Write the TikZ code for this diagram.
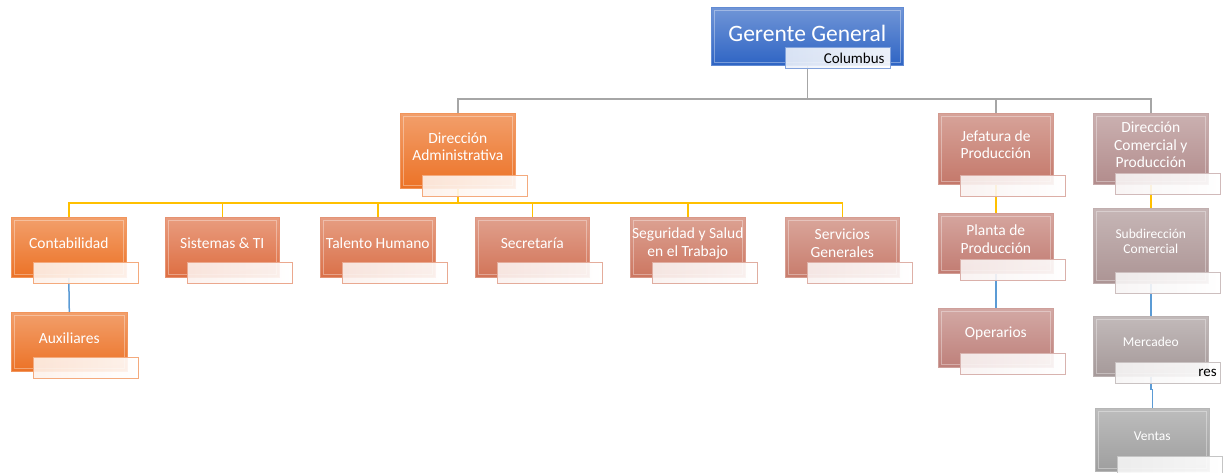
\documentclass[tikz,border=0pt]{standalone}
\usepackage{fontspec}
\setmainfont{Carlito}
\usetikzlibrary{calc,backgrounds}

% unit colours
\definecolor{cGG}{RGB}{46,100,196}
\definecolor{cOR}{RGB}{236,114,38}
\definecolor{cSI}{RGB}{222,110,66}
\definecolor{cTA}{RGB}{218,112,72}
\definecolor{cSE}{RGB}{210,116,88}
\definecolor{cSG}{RGB}{204,118,96}
\definecolor{cSV}{RGB}{200,124,108}
\definecolor{cJP}{RGB}{196,120,106}
\definecolor{cPP}{RGB}{194,124,114}
\definecolor{cOP}{RGB}{190,128,122}
\definecolor{cDC}{RGB}{178,140,140}
\definecolor{cSD}{RGB}{172,148,148}
\definecolor{cME}{RGB}{165,153,153}
\definecolor{cVE}{RGB}{158,158,158}
\definecolor{lnGray}{RGB}{166,166,166}
\definecolor{lnYellow}{RGB}{255,192,0}
\definecolor{lnBlue}{RGB}{91,155,213}

\newcommand\unitfont{\fontsize{15.5}{17.5}\selectfont}
\newcommand\smallunitfont{\fontsize{13.5}{15}\selectfont}

\tikzset{
  unit box/.style={rectangle, inner sep=0pt, anchor=north west,
    line width=0.6pt, draw=#1!75!white,
    top color=#1!68!white, bottom color=#1,
    path picture={\draw[white, opacity=.35, line width=1.2pt]
      ([xshift=3pt,yshift=-3pt]path picture bounding box.north west) rectangle
      ([xshift=-3pt,yshift=3pt]path picture bounding box.south east);}},
  unit label/.style={rectangle, inner sep=0pt, anchor=north west,
    minimum width=105pt, minimum height=21pt,
    draw=#1!60!white, line width=0.8pt,
    left color=#1!10!white, right color=white, fill opacity=.9, text opacity=1},
  unit text/.style={text=white, align=center, inner sep=0pt},
  label text/.style={text=black, inner sep=0pt, anchor=east, font=\fontsize{15}{17}\selectfont},
  conn/.style={line width=1.5pt, draw=#1},
}

% name, left, top, width, height, colour, label top, font, text
\newcommand\orgunit[9]{%
  \node[unit box=#6, minimum width=#4pt, minimum height=#5pt] (#1) at (#2,#3) {};
  \node[unit label=#6] (#1-l) at ({#2+22},#7) {};
  \node[unit text, font=#8] (#1-t) at ([yshift=4pt]#1.center) {#9};
}

\begin{document}
\begin{tikzpicture}[x=1pt, y=-1pt]
\useasboundingbox (0,0) rectangle (1225,473);

% general manager
\node[unit box=cGG, minimum width=192pt, minimum height=58pt] (gg) at (711,7) {};
\node[unit text, font=\fontsize{23.5}{26}\selectfont] (gg-t) at ([yshift=3pt]gg.center) {Gerente General};
\node[unit label=cGG] (gg-l) at (785,47) {};
\node[label text] (gg-lt) at ([xshift=-6pt]gg-l.east) {Columbus};

% administration branch
\orgunit{da}{400}{113}{115}{75}{cOR}{175}{\unitfont}{Dirección\\Administrativa}
\orgunit{cont}{11}{217}{115}{60}{cOR}{262}{\unitfont}{Contabilidad}
\orgunit{sis}{165}{217}{114}{60}{cSI}{262}{\unitfont}{Sistemas \& TI}
\orgunit{tal}{320}{217}{115}{60}{cTA}{262}{\unitfont}{Talento Humano}
\orgunit{sec}{475}{217}{114}{60}{cSE}{262}{\unitfont}{Secretaría}
\orgunit{seg}{630}{217}{115}{60}{cSG}{262}{\unitfont}{Seguridad y Salud\\en el Trabajo}
\orgunit{ser}{785}{217}{114}{60}{cSV}{262}{\unitfont}{Servicios\\Generales}
\orgunit{aux}{11}{312}{116}{59}{cOR}{357}{\unitfont}{Auxiliares}

% production branch
\orgunit{jp}{938}{113}{115}{71}{cJP}{175}{\unitfont}{Jefatura de\\Producción}
\orgunit{pp}{938}{213}{115}{60}{cPP}{259}{\unitfont}{Planta de\\Producción}
\orgunit{op}{938}{308}{115}{59}{cOP}{353}{\unitfont}{Operarios}

% commercial branch
\orgunit{dc}{1093}{113}{115}{71}{cDC}{173}{\unitfont}{Dirección\\Comercial y\\Producción}
\orgunit{sd}{1093}{208}{115}{75}{cSD}{272}{\smallunitfont}{Subdirección\\Comercial}
\orgunit{me}{1093}{316}{115}{60}{cME}{362}{\smallunitfont}{Mercadeo}
\node[label text] (me-lt) at ([xshift=-4pt]me-l.east) {res};
\orgunit{ve}{1095}{408}{114}{63}{cVE}{456}{\smallunitfont}{Ventas}

% connectors
\coordinate (busA) at (0,99);
\coordinate (busB) at (0,203);
\begin{scope}[on background layer]
  \draw[conn=lnGray] (gg.south) -- (gg.south |- busA) -| (da.north);
  \draw[conn=lnGray] (gg.south) -- (gg.south |- busA) -| (jp.north);
  \draw[conn=lnGray] (gg.south) -- (gg.south |- busA) -| (dc.north);
  \foreach \u in {cont,sis,tal,sec,seg,ser}
    \draw[conn=lnYellow] (da.south) -- (da.south |- busB) -| (\u.north);
  \draw[conn=lnBlue] (cont.south) -- (aux.north);
  \draw[conn=lnYellow] (jp.south) -- (pp.north);
  \draw[conn=lnBlue] (pp.south) -- (op.north);
  \draw[conn=lnYellow] (dc.south) -- (sd.north);
  \draw[conn=lnBlue] (sd.south) -- (me.north);
  \draw[conn=lnBlue] (me.south) -- ++(0,13) -| (ve.north);
\end{scope}
\end{tikzpicture}
\end{document}
